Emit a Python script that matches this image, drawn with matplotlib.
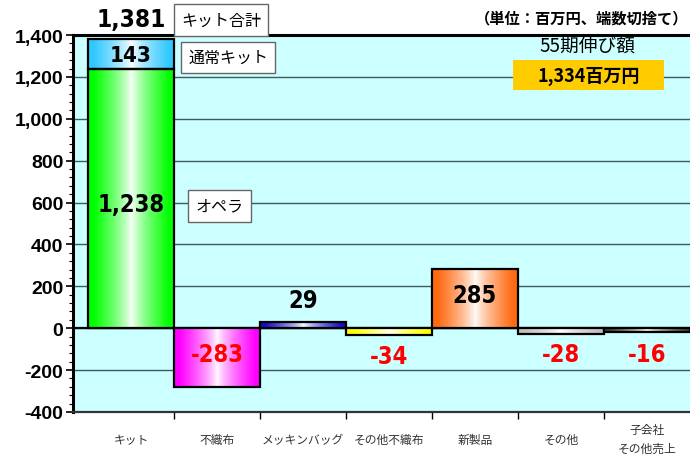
import numpy as np
import matplotlib.pyplot as plt
from matplotlib.colors import to_rgb
from matplotlib.patches import Rectangle
import matplotlib.transforms as mtransforms

cats = ['キット', '不織布', 'メッキンバッグ', 'その他不織布', '新製品', 'その他', '子会社\nその他売上']
opera = 1238
regular = 143
kit_total = 1381
deltas = [-283, 29, -34, 285, -28, -16]
delta_colors = ['#FF00FF', '#1010C8', '#FFFF00', '#FF6A10', '#C0C0C0', '#404040']
total_growth = '1,334百万円'

JP = ['Noto Sans CJK JP', 'DejaVu Sans']
NUM = dict(family='DejaVu Sans', fontstretch='condensed', fontweight='bold')

fig = plt.figure(figsize=(6.9, 4.56), dpi=100)
ax = fig.add_axes([73/690, 1-413/456, 617/690, 377/456])
ax.set_facecolor('#CCFFFF')


def grad_bar(x, y0, y1, color):
    c = np.array(to_rgb(color))
    t = np.abs(np.linspace(-1, 1, 80)) ** 0.75
    t = np.clip(t * 1.1, 0, 1)
    img = (1 - t)[:, None] * np.ones(3) + t[:, None] * c
    lo, hi = min(y0, y1), max(y0, y1)
    ax.imshow(img[None, :, :], extent=(x - 0.5, x + 0.5, lo, hi),
              aspect='auto', zorder=3, interpolation='bilinear')
    ax.bar(x, y1 - y0, bottom=y0, width=1.0, fill=False,
           edgecolor='black', linewidth=1.6, zorder=4)


grad_bar(0, 0, opera, '#00FF00')
grad_bar(0, opera, opera + regular, '#30C8FF')
for i, (v, c) in enumerate(zip(deltas, delta_colors)):
    grad_bar(i + 1, 0, v, c)

ax.set_xlim(-0.674, 6.5)
ax.set_ylim(-400, 1400)
ax.set_yticks(np.arange(-400, 1401, 200))
ax.set_yticks(np.arange(-400, 1401, 40), minor=True)
ax.set_yticklabels([f'{v:,}' for v in range(-400, 1401, 200)],
                   fontsize=14, fontweight='bold', family='Liberation Sans')
ax.tick_params(axis='y', which='major', length=5, width=1.2, direction='out', pad=2)
ax.tick_params(axis='y', which='minor', length=3, width=0.8, direction='out')
ax.set_xticks(np.arange(0.5, 6.5, 1.0))
ax.set_xticklabels([])
ax.tick_params(axis='x', which='major', length=5, width=1.0, direction='out')
ax.grid(axis='y', color='#3f5a5a', linewidth=1.0, zorder=1)
ax.set_axisbelow(True)
ax.axhline(0, color='black', linewidth=1.6, zorder=2)

for s in ['left', 'top']:
    ax.spines[s].set_linewidth(2.2)
ax.spines['bottom'].set_linewidth(1.6)
ax.spines['bottom'].set_color('#333333')
ax.spines['right'].set_visible(False)

trans = mtransforms.blended_transform_factory(ax.transData, ax.transAxes)
for i, c in enumerate(cats):
    ax.text(i, -0.072, c, transform=trans, ha='center', va='center',
            fontsize=8.5, family=JP, color='#333333', linespacing=1.6)

# value labels
ax.text(0, 1478, f'{kit_total:,}', ha='center', va='center', fontsize=17.5,
        clip_on=False, zorder=6, **NUM)
ax.text(0, 1303, f'{regular:,}', ha='center', va='center', fontsize=16,
        zorder=6, **NUM)
ax.text(0, 595, f'{opera:,}', ha='center', va='center', fontsize=17,
        zorder=6, **NUM)
label_y = [-124, 134, -134, 158, -124, -124]
for i, (v, ly) in enumerate(zip(deltas, label_y)):
    ax.text(i + 1, ly, f'{v:,}', ha='center', va='center', fontsize=17,
            color='red' if v < 0 else 'black', zorder=6, **NUM)

box = dict(boxstyle='square,pad=0.45', facecolor='white', edgecolor='#666666', linewidth=1.0)
ax.text(1.05, 1471, 'キット合計', ha='center', va='center', fontsize=11.5,
        family=JP, bbox=box, clip_on=False, zorder=6)
ax.text(1.13, 1294, '通常キット', ha='center', va='center', fontsize=11.5,
        family=JP, bbox=box, zorder=6)
ax.text(1.03, 583, 'オペラ', ha='center', va='center', fontsize=11.5,
        family=JP, bbox=box, zorder=6)

ax.text(5.31, 1351, '55期伸び額', ha='center', va='center', fontsize=13.5,
        family=JP, zorder=6)
ax.add_patch(Rectangle((4.44, 1137), 1.76, 143, facecolor='#FFCC00',
                       edgecolor='none', zorder=5))
ax.text(5.32, 1208, total_growth, ha='center', va='center', fontsize=13,
        fontweight='bold', family=JP, zorder=6)

fig.text(0.997, 1 - 18/456, '（単位：百万円、端数切捨て）', ha='right', va='center',
         fontsize=11, fontweight='bold', family=JP)

fig.savefig('out.png', dpi=100)
